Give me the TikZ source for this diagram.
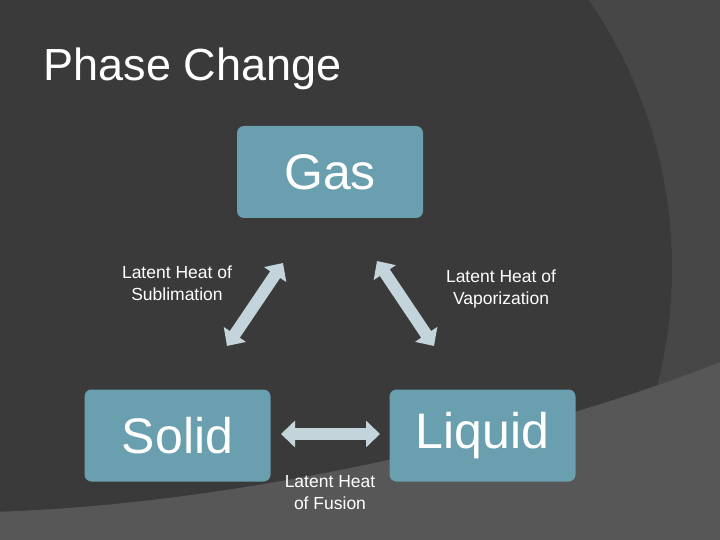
\documentclass[tikz,border=0pt]{standalone}
\usepackage{fontspec}
\setmainfont{Liberation Sans}
\usetikzlibrary{arrows.meta}
\definecolor{bgA}{HTML}{3A3A3A}
\definecolor{bgB}{HTML}{474747}
\definecolor{bgC}{HTML}{575757}
\definecolor{boxc}{HTML}{6A9FB0}
\definecolor{arrc}{HTML}{C3D4DB}
\begin{document}
\begin{tikzpicture}[x=1pt,y=-1pt,
  phase/.style={fill=boxc,rounded corners=7pt,minimum width=186pt,minimum height=92pt,text=white,font=\fontsize{50}{54}\selectfont},
  lbl/.style={text=white,font=\fontsize{17.5}{22}\selectfont,align=center},
  barrow/.style={draw=arrc,line width=12pt,{Triangle[width=26pt,length=14pt]}-{Triangle[width=26pt,length=14pt]}}]
\useasboundingbox (0,0) rectangle (720,540);
\begin{scope}
\clip (0,0) rectangle (720,540);
\fill[bgB] (0,0) rectangle (720,540);
\fill[bgA] (200,268) circle (472);
\fill[bgC] (-10,512) .. controls (250,505) and (550,430) .. (720,362) -- (720,540) -- (-10,540) -- cycle;
\end{scope}
\node[text=white,font=\fontsize{45}{50}\selectfont,anchor=west] (title) at (40,69) {Phase Change};
\node[phase] (gas) at (330,172) {Gas};
\node[phase] (solid) at (177.5,435.5) {Solid};
\node[phase] (liquid) at (482.5,435.5) {Liquid};
\coordinate (s1) at (283,263);
\coordinate (s2) at (227,346);
\coordinate (v1) at (377,261);
\coordinate (v2) at (434,346);
\coordinate (f1) at (281,434);
\coordinate (f2) at (380,434);
\draw[barrow] (s1) -- (s2);
\draw[barrow] (v1) -- (v2);
\draw[barrow] (f1) -- (f2);
\node[lbl] (ls) at (177,283) {Latent Heat of\\Sublimation};
\node[lbl] (lv) at (501,289) {Latent Heat of\\Vaporization};
\node[lbl] (lf) at (330,493) {Latent Heat\\of Fusion};
\end{tikzpicture}
\end{document}
